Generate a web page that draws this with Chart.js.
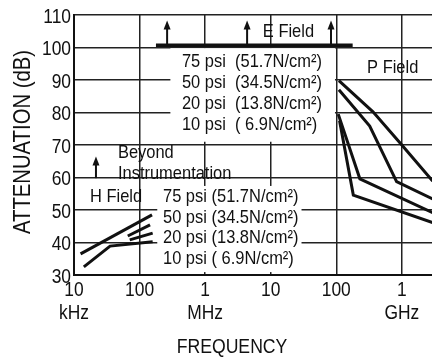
<!DOCTYPE html>
<html lang="en">
<head>
  <meta charset="UTF-8" />
  <title>Attenuation vs Frequency</title>
  <script src="https://cdn.jsdelivr.net/npm/chart.js"></script>
  <style>
    body { margin: 0; background: #fff; }
    .wrap { width: 432px; height: 358px; }
  </style>
</head>
<body>
  <div class="wrap"><canvas id="chart" width="432" height="358"></canvas></div>

  <script>
    // x is in decades above 10 kHz (0 = 10 kHz, 4 = 100 MHz, 5 = 1 GHz)
    const decades = [0, 1, 2, 3, 4, 5];
    const freqLabels = [["10", "kHz"], ["100"], ["1", "MHz"], ["10"], ["100"], ["1", "GHz"]];
    const dbTicks = [30, 40, 50, 60, 70, 80, 90, 100, 110];

    // H field curves
    const h75Freq = [0.10, 1.19];
    const h75Db   = [36.5, 48.5];
    const h50Freq = [0.82, 1.16];
    const h50Db   = [42.0, 45.4];
    const h20Freq = [0.85, 1.20];
    const h20Db   = [40.8, 42.9];
    const h10Freq = [0.15, 0.55, 1.20];
    const h10Db   = [32.5, 38.9, 40.2];

    // P field curves
    const p75Freq = [4.04, 4.56, 5.00, 5.47];
    const p75Db   = [89.8, 80.2, 70.0, 58.9];
    const p50Freq = [4.04, 4.51, 4.92, 5.47];
    const p50Db   = [87.0, 75.8, 58.7, 53.4];
    const p20Freq = [4.03, 4.36, 5.47];
    const p20Db   = [79.5, 59.6, 49.2];
    const p10Freq = [4.05, 4.26, 5.47];
    const p10Db   = [77.5, 54.6, 46.1];

    const FONT = "'Liberation Sans', Arial, sans-serif";
    const INK = "#111";

    function pts(xs, ys) {
      return xs.map((x, i) => ({ x: x, y: ys[i] }));
    }

    function curve(xs, ys) {
      return {
        data: pts(xs, ys),
        borderColor: INK,
        borderWidth: 3,
        pointRadius: 0,
        fill: false,
        tension: 0
      };
    }

    // condensed text: the original uses a narrow face, so squeeze Liberation Sans
    function say(ctx, s, x, y, size, align, sx) {
      ctx.save();
      ctx.translate(x, y);
      ctx.scale(sx || 0.87, 1);
      ctx.font = size + "px " + FONT;
      ctx.textAlign = align || "left";
      ctx.textBaseline = "middle";
      ctx.fillText(s, 0, 0);
      ctx.restore();
    }

    const notes = {
      id: "notes",
      // white patches behind the two legend blocks
      beforeDatasetsDraw(chart) {
        const ctx = chart.ctx, xs = chart.scales.x, ys = chart.scales.y;
        ctx.save();
        ctx.fillStyle = "#fff";
        [[1.47, 3.98, 99.8, 71.0], [1.27, 3.47, 57.4, 30.9]].forEach(r => {
          const x0 = xs.getPixelForValue(r[0]), x1 = xs.getPixelForValue(r[1]);
          const y0 = ys.getPixelForValue(r[2]), y1 = ys.getPixelForValue(r[3]);
          ctx.fillRect(x0, y0, x1 - x0, y1 - y0);
        });
        ctx.restore();
      },
      afterDatasetsDraw(chart) {
        const ctx = chart.ctx, xs = chart.scales.x, ys = chart.scales.y;
        const px = v => xs.getPixelForValue(v), py = v => ys.getPixelForValue(v);
        ctx.save();
        ctx.fillStyle = INK;
        ctx.strokeStyle = INK;

        // E field bar
        ctx.lineWidth = 3.5;
        ctx.beginPath();
        ctx.moveTo(px(1.25), py(100.7));
        ctx.lineTo(px(4.25), py(100.7));
        ctx.stroke();

        function arrow(x, from, to) {
          const X = px(x), y0 = py(from), y1 = py(to);
          ctx.lineWidth = 2;
          ctx.beginPath();
          ctx.moveTo(X, y0);
          ctx.lineTo(X, y1 + 6);
          ctx.stroke();
          ctx.beginPath();
          ctx.moveTo(X, y1);
          ctx.lineTo(X - 3.5, y1 + 9);
          ctx.lineTo(X + 3.5, y1 + 9);
          ctx.closePath();
          ctx.fill();
        }
        arrow(1.42, 100.7, 108.3);
        arrow(2.64, 100.7, 108.3);
        arrow(3.92, 100.7, 108.3);
        arrow(0.335, 59.8, 66.5);

        const text = (s, x, y) => say(ctx, s, px(x), py(y), 18.5, "left", 0.89);
        text("E Field", 2.88, 104.8);
        text("P Field", 4.47, 93.7);
        text("Beyond", 0.67, 67.5);
        text("Instrumentation", 0.67, 61.1);
        text("H Field", 0.244, 54.0);

        ["75 psi  (51.7N/cm²)", "50 psi  (34.5N/cm²)", "20 psi  (13.8N/cm²)", "10 psi  ( 6.9N/cm²)"]
          .forEach((s, i) => text(s, 1.646, 95.5 - i * 6.45));
        ["75 psi (51.7N/cm²)", "50 psi (34.5N/cm²)", "20 psi (13.8N/cm²)", "10 psi ( 6.9N/cm²)"]
          .forEach((s, i) => text(s, 1.357, 54.0 - i * 6.3));

        // tick labels
        dbTicks.forEach(v => say(ctx, String(v), xs.left - 3, py(v) + 2, 20, "right", 0.87));
        decades.forEach((d, i) => {
          freqLabels[i].forEach((s, k) => say(ctx, s, px(d), ys.bottom + 15 + k * 23, 20, "center", 0.87));
        });

        // axis titles
        say(ctx, "FREQUENCY", 232, 347, 21, "center", 0.84);
        ctx.translate(23, 142);
        ctx.rotate(-Math.PI / 2);
        say(ctx, "ATTENUATION (dB)", 0, 0, 24, "center", 0.845);
        ctx.restore();
      }
    };

    new Chart(document.getElementById("chart"), {
      type: "line",
      data: {
        datasets: [
          curve(h75Freq, h75Db), curve(h50Freq, h50Db), curve(h20Freq, h20Db), curve(h10Freq, h10Db),
          curve(p75Freq, p75Db), curve(p50Freq, p50Db), curve(p20Freq, p20Db), curve(p10Freq, p10Db)
        ]
      },
      options: {
        responsive: false,
        animation: false,
        layout: { padding: { top: 15, right: 0, left: 0, bottom: 0 } },
        plugins: { legend: { display: false }, tooltip: { enabled: false } },
        scales: {
          x: {
            type: "linear",
            min: 0,
            max: 5.46,
            afterFit: s => { s.height = 83; },
            border: { color: INK, width: 2 },
            grid: { color: "#222", lineWidth: 1.5, drawTicks: false },
            ticks: { stepSize: 1, includeBounds: false, display: false }
          },
          y: {
            min: dbTicks[0],
            max: dbTicks[dbTicks.length - 1],
            afterFit: s => { s.width = 74; },
            border: { color: INK, width: 2 },
            grid: { color: "#222", lineWidth: 1.5, drawTicks: false },
            ticks: { stepSize: 10, display: false }
          }
        }
      },
      plugins: [notes]
    });
  </script>
</body>
</html>
